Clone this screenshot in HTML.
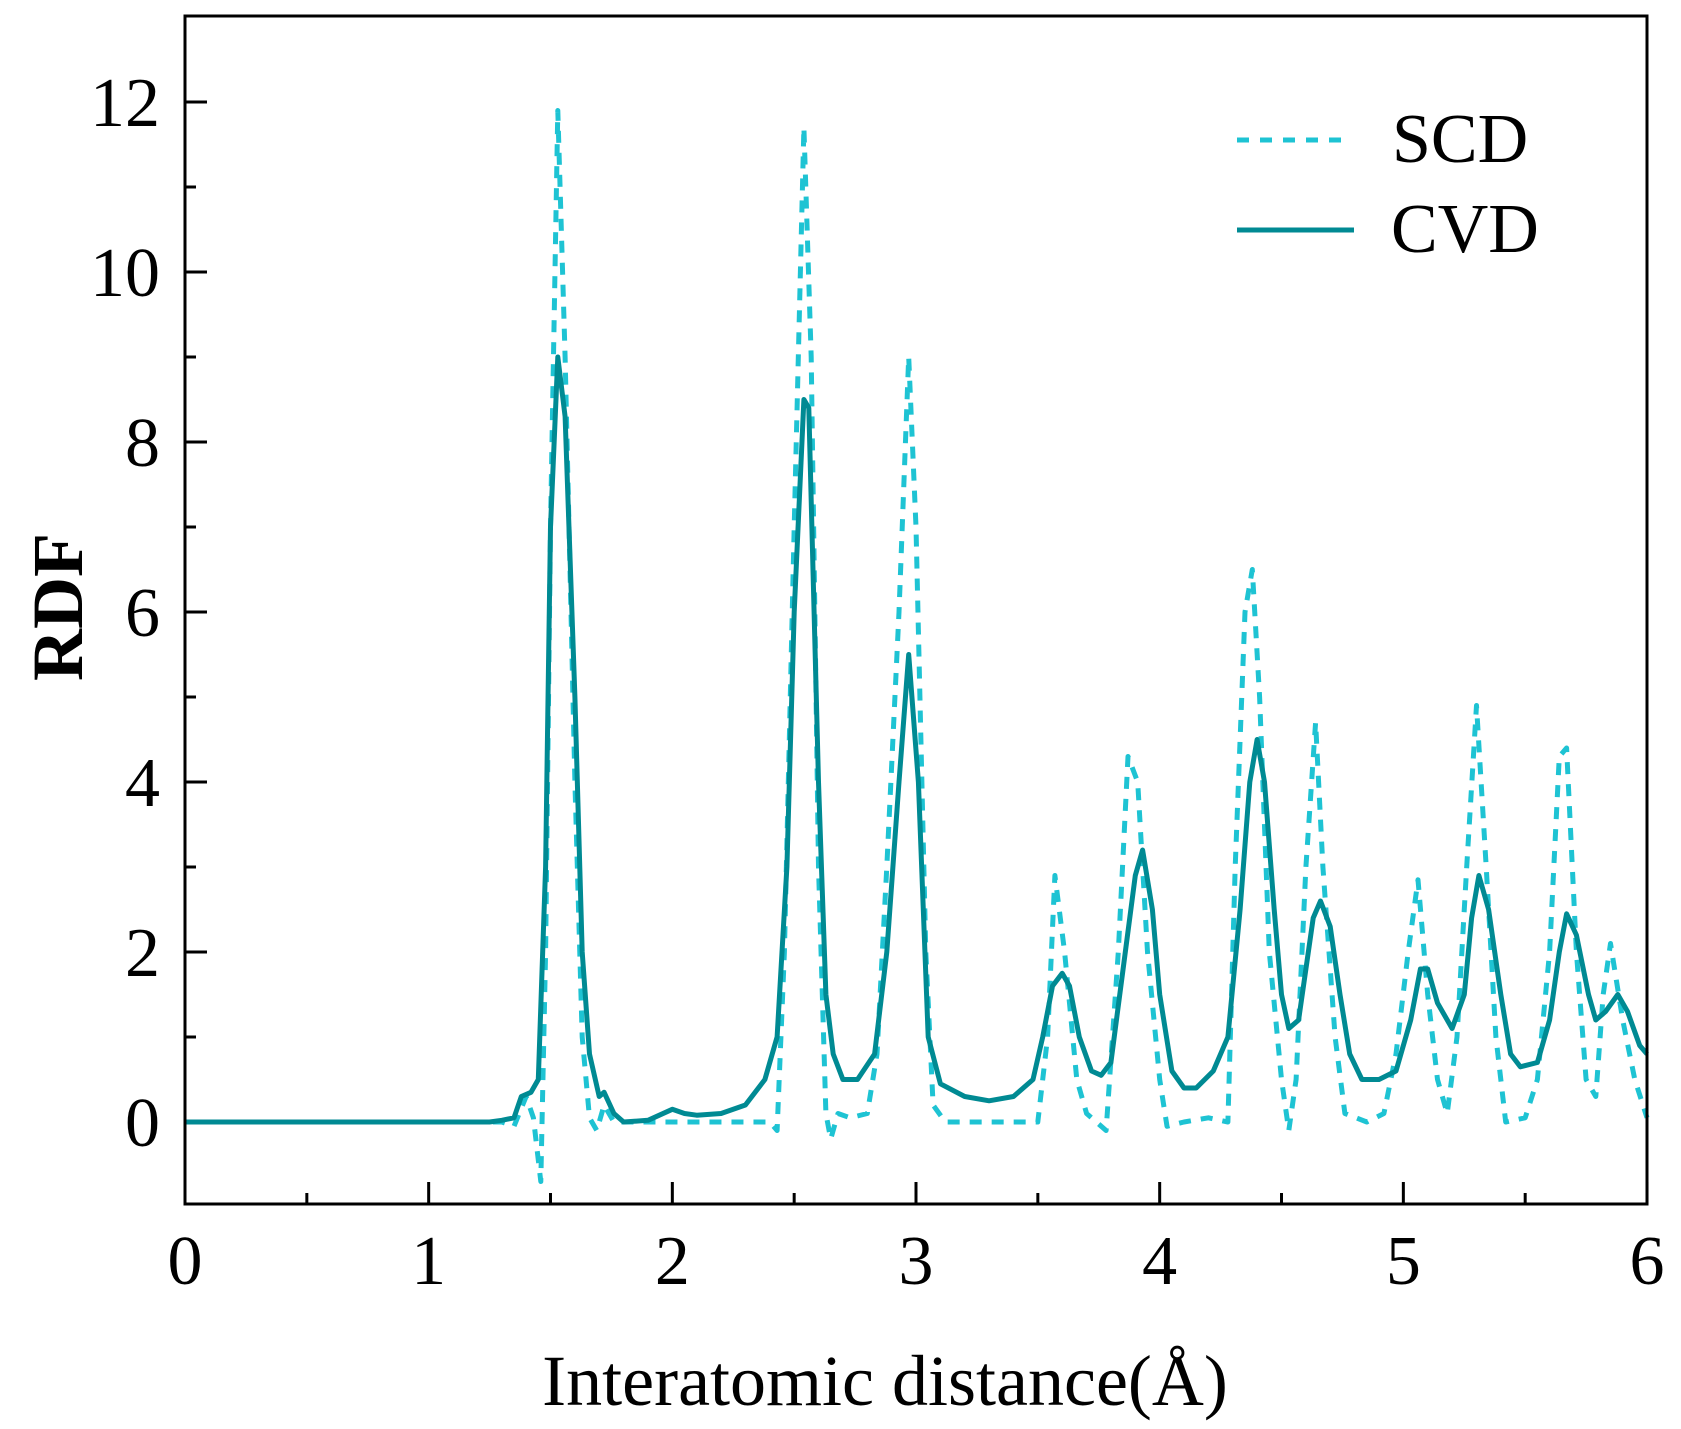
<!DOCTYPE html>
<html><head><meta charset="utf-8"><style>
html,body{margin:0;padding:0;background:#fff;}
svg{display:block;font-family:"Liberation Serif",serif;}
</style></head><body>
<svg id="chart" width="1681" height="1429" viewBox="0 0 1681 1429" xmlns="http://www.w3.org/2000/svg">
<g id="axes"></g>
<g id="series"></g>
<rect x="185" y="16" width="1462" height="1188" fill="none" stroke="#000" stroke-width="3"/>
<g>
<line x1="1237" y1="140" x2="1344" y2="140" stroke="#1ec3d3" stroke-width="5" stroke-dasharray="12,11"/>
<text x="1392" y="162" font-size="70">SCD</text>
<line x1="1237" y1="230" x2="1354" y2="230" stroke="#008a93" stroke-width="5"/>
<text x="1391" y="252" font-size="70">CVD</text>
</g>
<text transform="translate(82,607) rotate(-90)" text-anchor="middle" font-size="72" font-weight="bold">RDF</text>
<text x="885" y="1405" text-anchor="middle" font-size="72">Interatomic distance(Å)</text>
</svg>
<script>
const xTicks = [0,1,2,3,4,5,6];
const yTicks = [0,2,4,6,8,10,12];
const scdX = [0,1.3,1.35,1.4,1.43,1.46,1.48,1.5,1.53,1.56,1.6,1.63,1.66,1.69,1.72,1.76,2.4,2.43,2.46,2.5,2.54,2.57,2.6,2.63,2.65,2.68,2.73,2.8,2.84,2.88,2.93,2.97,3.0,3.04,3.07,3.12,3.5,3.54,3.57,3.61,3.66,3.7,3.78,3.83,3.87,3.91,3.95,4.0,4.03,4.1,4.2,4.28,4.31,4.35,4.38,4.41,4.45,4.5,4.53,4.56,4.6,4.64,4.67,4.72,4.76,4.85,4.92,4.97,5.02,5.06,5.1,5.14,5.18,5.22,5.26,5.3,5.34,5.38,5.42,5.5,5.55,5.6,5.64,5.67,5.71,5.75,5.79,5.82,5.85,5.9,5.95,6.0];
const scdY = [0,0,-0.05,0.3,0.05,-0.7,2,7,11.9,9,4,1,0.05,-0.1,0.2,0,0,-0.1,2,7,11.7,9,3,0.1,-0.2,0.1,0.05,0.1,0.8,3,6,9.0,7,2,0.2,0,0,1,2.9,2,0.5,0.1,-0.1,2,4.3,4.0,2,0.5,-0.05,0,0.05,0,3,6.0,6.5,5,2,0.5,-0.1,0.5,3,4.7,3,1,0.1,0,0.1,0.8,2,2.85,1.5,0.5,0.1,1,3,4.9,3,1,0,0.05,0.5,2,4.3,4.4,2,0.5,0.3,1.5,2.1,1.2,0.5,0.05];
const cvdX = [0,1.25,1.3,1.35,1.38,1.42,1.45,1.48,1.5,1.53,1.56,1.6,1.63,1.66,1.7,1.72,1.76,1.8,1.9,2.0,2.05,2.1,2.2,2.3,2.38,2.43,2.47,2.5,2.54,2.56,2.6,2.63,2.66,2.7,2.76,2.83,2.88,2.93,2.97,3.01,3.05,3.1,3.2,3.3,3.4,3.48,3.52,3.56,3.6,3.63,3.67,3.72,3.76,3.8,3.85,3.9,3.93,3.97,4.0,4.05,4.1,4.15,4.22,4.28,4.33,4.37,4.4,4.43,4.47,4.5,4.53,4.57,4.6,4.63,4.66,4.7,4.74,4.78,4.83,4.9,4.97,5.03,5.07,5.1,5.14,5.2,5.25,5.28,5.31,5.35,5.4,5.44,5.48,5.55,5.6,5.64,5.67,5.71,5.76,5.79,5.83,5.88,5.92,5.97,6.0];
const cvdY = [0,0,0.02,0.05,0.3,0.35,0.5,3,7,9.0,8.3,5,2,0.8,0.3,0.35,0.1,0,0.02,0.15,0.1,0.08,0.1,0.2,0.5,1.0,3,6,8.5,8.4,4,1.5,0.8,0.5,0.5,0.8,2,4,5.5,4,1.0,0.45,0.3,0.25,0.3,0.5,1.0,1.6,1.75,1.6,1.0,0.6,0.55,0.7,1.8,2.9,3.2,2.5,1.5,0.6,0.4,0.4,0.6,1.0,2.5,4.0,4.5,4.0,2.5,1.5,1.1,1.2,1.8,2.4,2.6,2.3,1.5,0.8,0.5,0.5,0.6,1.2,1.8,1.8,1.4,1.1,1.5,2.4,2.9,2.5,1.5,0.8,0.65,0.7,1.2,2.0,2.45,2.2,1.5,1.2,1.3,1.5,1.3,0.9,0.8];

const X0 = 185, XPU = 243.67, Y0 = 1122, YPU = 85;
function sx(v){ return X0 + v * XPU; }
function sy(v){ return Y0 - v * YPU; }
const NS = "http://www.w3.org/2000/svg";
const axes = document.getElementById('axes');
const series = document.getElementById('series');
function mk(tag, attrs, parent){ const e = document.createElementNS(NS, tag); for (const k in attrs) e.setAttribute(k, attrs[k]); parent.appendChild(e); return e; }

for (let i = 0; i <= 12; i++) {
  const major = i % 2 === 0;
  const t = mk('line', {x1:185, x2:185 + (major?22:11), y1:sy(i), y2:sy(i), stroke:'#000','stroke-width':3}, axes);
  
  
}
for (let i = 0; i <= 12; i++) {
  const v = i * 0.5;
  const major = i % 2 === 0;
  const t = mk('line', {x1:sx(v), x2:sx(v), y1:1204, y2:1204 - (major?22:11), stroke:'#000','stroke-width':3}, axes);
  
  
}
yTicks.forEach(v => {
  const t = mk('text', {x:160, y:sy(v) + 24, 'text-anchor':'end', 'font-size':70}, axes);
  t.textContent = v;
  
  
});
xTicks.forEach(v => {
  const t = mk('text', {x:sx(v), y:1284, 'text-anchor':'middle', 'font-size':70}, axes);
  t.textContent = v;
  
  
});
function pathOf(xs, ys){ return xs.map((x,i)=>(i?'L':'M')+sx(x).toFixed(1)+','+sy(ys[i]).toFixed(1)).join(' '); }
const scd = mk('path', {d:pathOf(scdX, scdY), fill:'none', stroke:'#1ec3d3', 'stroke-width':5, 'stroke-dasharray':'12,10', 'stroke-linejoin':'round'}, series);


const cvd = mk('path', {d:pathOf(cvdX, cvdY), fill:'none', stroke:'#008a93', 'stroke-width':5, 'stroke-linejoin':'round'}, series);


</script>
</body></html>
